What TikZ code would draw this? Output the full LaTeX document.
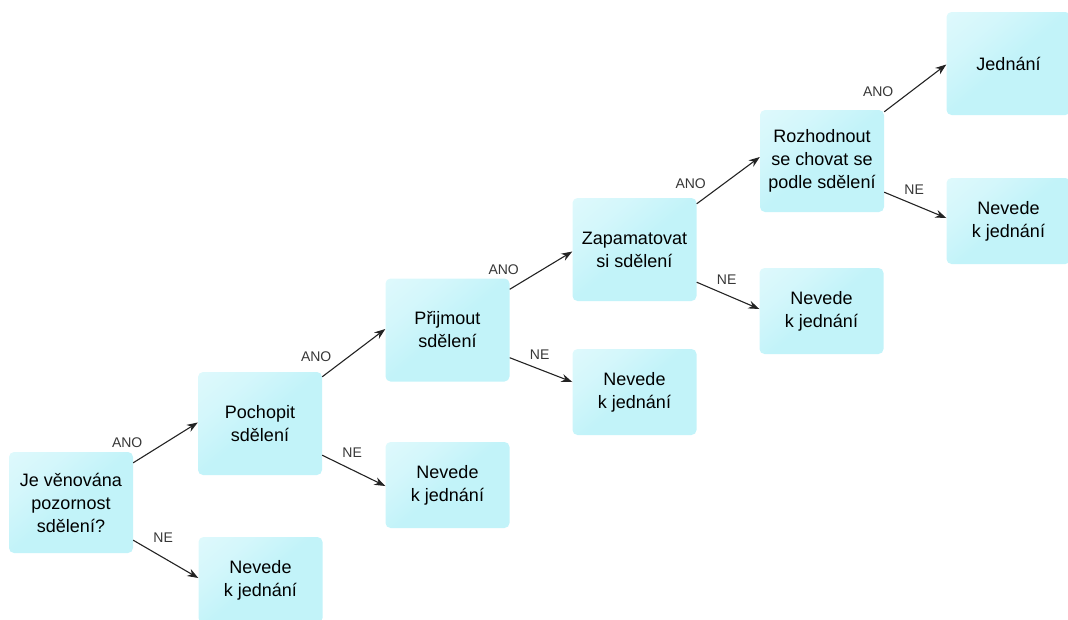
\documentclass[tikz,border=0pt]{standalone}
\usepackage{fontspec}
\setmainfont{Liberation Sans}
\usetikzlibrary{arrows.meta}

\definecolor{boxc}{RGB}{194,243,249}
\definecolor{boxlight}{RGB}{232,251,253}
\definecolor{linec}{RGB}{35,35,35}
\definecolor{lblc}{RGB}{55,55,55}

% box fill: soft highlight in the upper left corner, cyan elsewhere
\pgfdeclareverticalshading{boxglow}{100bp}{
  color(0bp)=(boxc); color(50bp)=(boxc); color(68bp)=(boxc!55!boxlight); color(100bp)=(boxlight)}

\tikzset{
  stage/.style={shading=boxglow, shading angle=40, rounded corners=5pt,
    minimum width=124pt, minimum height=103pt,
    inner sep=2pt, align=center, text=black, font=\fontsize{18}{23}\selectfont},
  outcome/.style={stage, minimum height=86pt},
  flow/.style={draw=linec, line width=1.1pt, -{Stealth[length=11pt,width=8pt]}},
  yeslbl/.style={text=lblc, font=\fontsize{14}{16}\selectfont, inner sep=0pt,
    pos=0, xshift=-6pt, yshift=20pt},
  nolbl/.style={text=lblc, font=\fontsize{14}{16}\selectfont, inner sep=0pt,
    pos=0, xshift=30pt, yshift=3pt}
}

\begin{document}
\begin{tikzpicture}[x=1pt, y=-1pt]
  \useasboundingbox (0,0) rectangle (1068,619);
  \clip (0,0) rectangle (1068,619);

  % decision stages
  \node[stage, minimum height=101pt] (je)   at (71,502.5) {Je věnována\\pozornost\\sdělení?};
  \node[stage] (poch) at (260,423.5) {Pochopit\\sdělení};
  \node[stage] (prij) at (447.5,330) {Přijmout\\sdělení};
  \node[stage] (zap)  at (634.5,249.5) {Zapamatovat\\si sdělení};
  \node[stage, minimum height=102pt] (roz)  at (822,161) {Rozhodnout\\se chovat se\\podle sdělení};
  \node[stage] (jed)  at (1008.5,63.5) {Jednání};

  % dead ends
  \node[outcome] (n1) at (260.5,580) {Nevede\\k jednání};
  \node[outcome] (n2) at (447.5,485) {Nevede\\k jednání};
  \node[outcome] (n3) at (634.5,392) {Nevede\\k jednání};
  \node[outcome] (n4) at (821.5,311) {Nevede\\k jednání};
  \node[outcome] (n5) at (1008.5,221) {Nevede\\k jednání};

  % yes / no branches
  \draw[flow] ([yshift=-11pt]je.north east) -- ([yshift=1pt]poch.west) node[yeslbl] {ANO};
  \draw[flow] ([yshift=13pt]je.south east) -- ([yshift=2pt]n1.west) node[nolbl] {NE};

  \draw[flow] ([yshift=-5pt]poch.north east) -- ([yshift=1pt]prij.west) node[yeslbl] {ANO};
  \draw[flow] ([yshift=20pt]poch.south east) -- ([yshift=-1pt]n2.west) node[nolbl] {NE};

  \draw[flow] ([yshift=-11pt]prij.north east) -- ([yshift=-2pt]zap.west) node[yeslbl] {ANO};
  \draw[flow] ([yshift=24pt]prij.south east) -- ([yshift=10pt]n3.west) node[nolbl] {NE};

  \draw[flow] ([yshift=-6pt]zap.north east) -- ([yshift=4pt]roz.west) node[yeslbl] {ANO};
  \draw[flow] ([yshift=19pt]zap.south east) -- ([yshift=2pt]n4.west) node[nolbl] {NE};

  \draw[flow] ([yshift=-2pt]roz.north east) -- ([yshift=-1pt]jed.west) node[yeslbl] {ANO};
  \draw[flow] ([yshift=20pt]roz.south east) -- ([yshift=3pt]n5.west) node[nolbl] {NE};
\end{tikzpicture}
\end{document}
